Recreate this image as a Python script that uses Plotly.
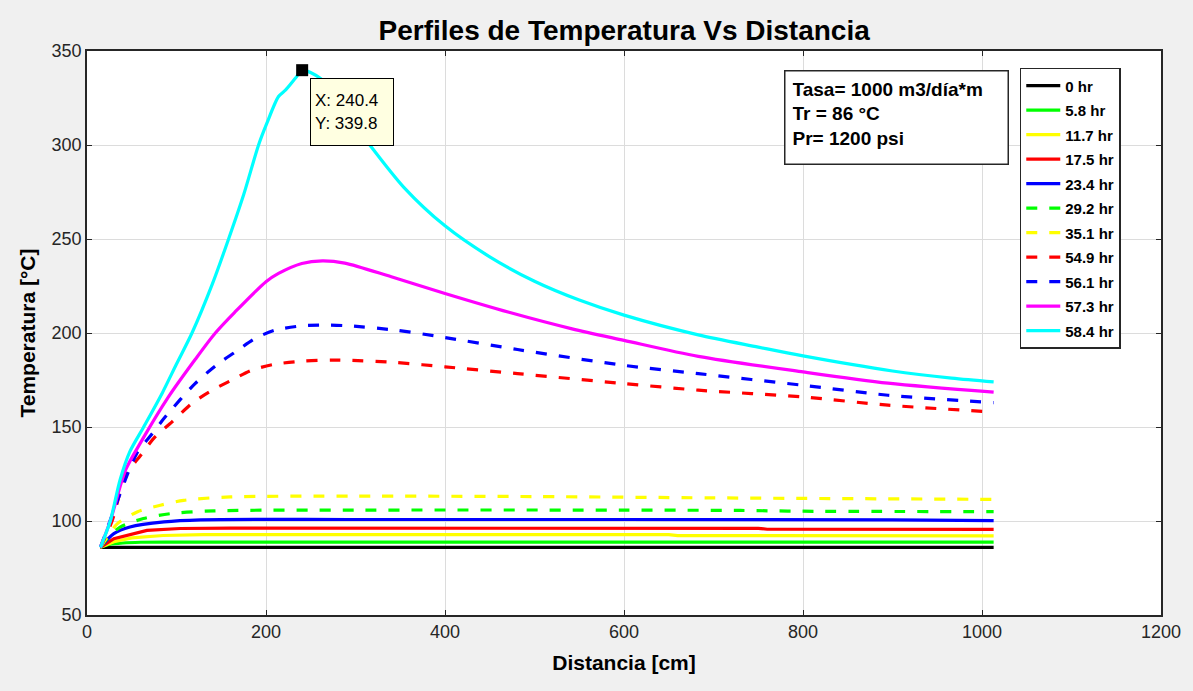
import plotly.graph_objects as go

# ---------------- data ----------------
labels = ["0 hr", "5.8 hr", "11.7 hr", "17.5 hr", "23.4 hr", "29.2 hr",
          "35.1 hr", "54.9 hr", "56.1 hr", "57.3 hr", "58.4 hr"]

x_0 = [15, 200, 400, 600, 800, 1013]
y_0 = [86, 86, 86, 86, 86, 86]

x_5_8 = [15, 25, 40, 60, 100, 400, 800, 1013]
y_5_8 = [86, 87.5, 88.3, 88.7, 88.8, 88.8, 88.8, 88.8]

x_11_7 = [15, 30, 50, 85, 130, 400, 650, 660, 1013]
y_11_7 = [86, 89.0, 91.0, 92.3, 92.7, 92.8, 92.8, 92.2, 92.1]

x_17_5 = [15, 30, 67, 104, 160, 400, 750, 760, 1013]
y_17_5 = [86, 90.6, 95.0, 96.0, 96.2, 96.2, 96.1, 95.6, 95.5]

x_23_4 = [15, 30, 48, 86, 127, 300, 900, 1013]
y_23_4 = [86, 93.3, 96.8, 99.5, 100.6, 100.8, 100.6, 100.2]

x_29_2 = [15, 25, 37, 63, 93, 142, 300, 600, 730, 800, 1013]
y_29_2 = [86, 92.0, 96.8, 101.3, 103.9, 105.4, 105.8, 105.8, 105.6, 105.2, 105.0]

x_35_1 = [15, 25, 34, 56, 82, 108, 160, 300, 500, 700, 1013]
y_35_1 = [86, 93.0, 98.6, 104.8, 108.4, 111.0, 112.8, 113.2, 113.0, 112.3, 111.5]

x_54_9 = [15, 28, 43, 60, 76, 95, 117, 140, 162, 184, 210, 240, 274, 293,
          345, 400, 481, 600, 683, 800, 895, 1013]
y_54_9 = [86, 100, 124, 135, 144.7, 152.7, 162.5, 169.6, 175.0, 180.2, 183.4,
          185.0, 185.6, 185.5, 184.3, 182.0, 178.4, 173.1, 169.6, 166.0, 161.6, 158.0]

x_56_1 = [15, 28, 47, 56, 73, 87.5, 121, 147, 166, 188, 210, 240, 266, 293,
          345, 400, 481, 600, 683, 800, 895, 1013]
y_56_1 = [86, 103, 127, 136.2, 146.5, 155.4, 173.2, 183.8, 190.0, 197.1, 201.5,
          203.8, 204.2, 203.8, 201.5, 197.6, 191.2, 182.8, 178.4, 172.2, 166.9, 163.0]

x_57_3 = [15, 26, 43, 61.5, 91, 121, 143.4, 165, 200, 214, 240, 263, 288, 340,
          400, 471.5, 542, 600, 683, 800, 895, 1013]
y_57_3 = [86, 100, 127, 143, 166, 186, 200, 211, 227.3, 231.7, 237.0, 238.4,
          237.2, 229.9, 221.0, 211.0, 202.2, 196.1, 187.6, 179.3, 173.3, 168.5]

x_58_4 = [15, 26, 37, 48, 63.3, 84, 100, 117.3, 140, 158.2, 175, 191.7, 201,
          214, 222, 233, 240.4, 261, 280, 298, 316, 354, 400, 450, 500, 550,
          600, 683, 750, 800, 900, 966, 1013]
y_58_4 = [86, 100, 122, 137, 150, 168, 183.5, 200, 226, 250, 273.5, 300, 311.6,
          325.8, 329.3, 335.6, 339.8, 335.4, 324.5, 311.5, 300, 277.5, 257.0,
          240.5, 227.5, 217.5, 209.5, 199.0, 192.5, 187.8, 179.8, 176.0, 174.0]

x_series = [x_0, x_5_8, x_11_7, x_17_5, x_23_4, x_29_2, x_35_1,
            x_54_9, x_56_1, x_57_3, x_58_4]
y_series = [y_0, y_5_8, y_11_7, y_17_5, y_23_4, y_29_2, y_35_1,
            y_54_9, y_56_1, y_57_3, y_58_4]

x_ticks = [0, 200, 400, 600, 800, 1000, 1200]
y_ticks = [50, 100, 150, 200, 250, 300, 350]

# ---------------- styles ----------------
colors = ["#000000", "#00ff00", "#ffff00", "#ff0000", "#0000ff", "#00ff00",
          "#ffff00", "#ff0000", "#0000ff", "#ff00ff", "#00ffff"]
dashes = ["solid"] * 5 + ["11px,12px"] * 4 + ["solid"] * 2
shapes_ = ["linear", "spline", "linear", "linear", "spline", "spline",
           "spline", "spline", "spline", "spline", "spline"]

FONT = "Liberation Sans, Arial, Helvetica, sans-serif"

fig = go.Figure()
for i, (xs, ys) in enumerate(zip(x_series, y_series)):
    fig.add_trace(go.Scatter(
        x=xs, y=ys, mode="lines", name=labels[i], legendgroup=f"g{i}",
        line=dict(color=colors[i], width=3.2, dash=dashes[i],
                  shape=shapes_[i], smoothing=0.8),
        hoverinfo="skip",
    ))

# data tip at the peak of the last curve
pk = max(range(len(y_58_4)), key=lambda k: y_58_4[k])
px_, py_ = x_58_4[pk], y_58_4[pk]
fig.add_trace(go.Scatter(
    x=[px_], y=[py_], mode="markers", showlegend=False,
    marker=dict(symbol="square", size=12, color="black"),
    hoverinfo="skip",
))
fig.add_annotation(
    x=px_, y=py_, xref="x", yref="y", showarrow=False,
    xanchor="left", yanchor="top", xshift=8, yshift=-8,
    width=74, height=58,
    text=f"X: {px_:.1f}<br>Y: {py_:.1f}", align="left", valign="middle",
    font=dict(family=FONT, size=17, color="#000000"),
    bgcolor="#ffffe1", bordercolor="#000000", borderwidth=1, borderpad=4,
)

# text box
fig.add_annotation(
    x=0.649, y=0.966, xref="paper", yref="paper", showarrow=False,
    xanchor="left", yanchor="top", align="left", valign="top",
    width=208, height=78,
    text="Tasa= 1000 m3/día*m<br>Tr = 86 °C<br>Pr= 1200 psi",
    font=dict(family=FONT, size=19, color="#000000", weight="bold"),
    bgcolor="#ffffff", bordercolor="#262626", borderwidth=1.5, borderpad=7,
)

fig.update_layout(
    width=1193, height=691,
    margin=dict(l=87, r=32, t=51, b=76),
    paper_bgcolor="#f0f0f0", plot_bgcolor="#ffffff",
    title=dict(text="Perfiles de Temperatura Vs Distancia",
               x=0.5232, xanchor="center", y=0.957, yanchor="middle",
               xref="container", yref="container",
               font=dict(family=FONT, size=28, color="#000000", weight="bold")),
    legend=dict(x=0.8685, y=0.97, xanchor="left", yanchor="top",
                bgcolor="#ffffff", bordercolor="#262626", borderwidth=1.5,
                font=dict(family=FONT, size=15, color="#000000", weight="bold"),
                tracegroupgap=2, itemwidth=34),
    showlegend=True,
)
fig.update_xaxes(
    range=[0, 1200], tickvals=x_ticks, ticktext=[str(v) for v in x_ticks],
    showgrid=True, gridcolor="#dcdcdc", gridwidth=1,
    showline=True, linecolor="#262626", linewidth=1.5, mirror="ticks",
    ticks="inside", ticklen=5, tickcolor="#262626", zeroline=False,
    tickfont=dict(family=FONT, size=18, color="#262626"),
    title=dict(text="Distancia [cm]", standoff=14,
               font=dict(family=FONT, size=21, color="#000000", weight="bold")),
)
fig.update_yaxes(
    range=[50, 350], tickvals=y_ticks, ticktext=[str(v) for v in y_ticks],
    showgrid=True, gridcolor="#dcdcdc", gridwidth=1,
    showline=True, linecolor="#262626", linewidth=1.5, mirror="ticks",
    ticks="inside", ticklen=5, tickcolor="#262626", zeroline=False,
    tickfont=dict(family=FONT, size=18, color="#262626"),
    title=dict(text="Temperatura [°C]", standoff=10,
               font=dict(family=FONT, size=21, color="#000000", weight="bold")),
)

fig.write_html("out.html")
